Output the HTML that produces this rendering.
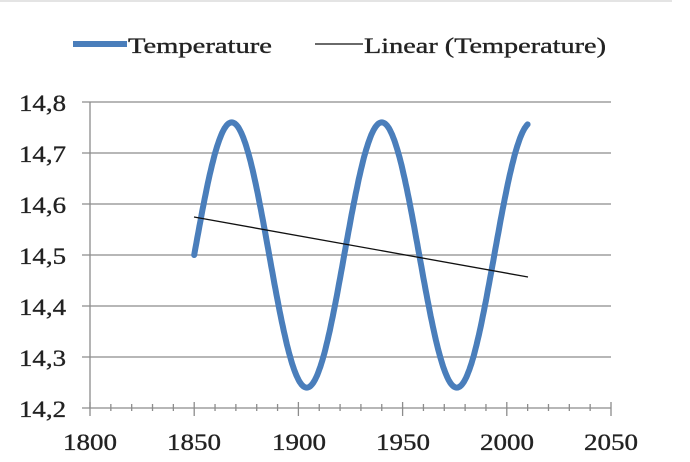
<!DOCTYPE html>
<html><head><meta charset="utf-8"><style>
html,body{margin:0;padding:0;background:#fff;}
svg{display:block;font-family:"Liberation Serif",serif;}
text{stroke:#222;stroke-width:0.35;}
</style></head><body>
<svg id="s" width="690" height="462" viewBox="0 0 690 462">
<rect x="0" y="0" width="690" height="462" fill="#fff"/>
<line x1="0" y1="1" x2="672" y2="1" stroke="#e4e4e4" stroke-width="2"/>
<g stroke="#8c8c8c" stroke-width="1.3">
<line x1="82" y1="102" x2="611" y2="102"/>
<line x1="82" y1="153" x2="611" y2="153"/>
<line x1="82" y1="204" x2="611" y2="204"/>
<line x1="82" y1="255" x2="611" y2="255"/>
<line x1="82" y1="306" x2="611" y2="306"/>
<line x1="82" y1="357" x2="611" y2="357"/>
<line x1="82" y1="408" x2="611" y2="408"/>
<line x1="90" y1="102" x2="90" y2="408"/>
</g>
<g id="ticks" stroke="#8c8c8c" stroke-width="1.3"></g>
<g font-size="23" fill="#222" text-anchor="end">
<text x="66" y="111" textLength="47" lengthAdjust="spacingAndGlyphs">14,8</text>
<text x="66" y="162" textLength="47" lengthAdjust="spacingAndGlyphs">14,7</text>
<text x="66" y="213" textLength="47" lengthAdjust="spacingAndGlyphs">14,6</text>
<text x="66" y="264" textLength="47" lengthAdjust="spacingAndGlyphs">14,5</text>
<text x="66" y="315" textLength="47" lengthAdjust="spacingAndGlyphs">14,4</text>
<text x="66" y="366" textLength="47" lengthAdjust="spacingAndGlyphs">14,3</text>
<text x="66" y="417" textLength="47" lengthAdjust="spacingAndGlyphs">14,2</text>
</g>
<g font-size="23" fill="#222" text-anchor="middle">
<text x="90" y="450" textLength="54" lengthAdjust="spacingAndGlyphs">1800</text>
<text x="194" y="450" textLength="54" lengthAdjust="spacingAndGlyphs">1850</text>
<text x="299" y="450" textLength="54" lengthAdjust="spacingAndGlyphs">1900</text>
<text x="403" y="450" textLength="54" lengthAdjust="spacingAndGlyphs">1950</text>
<text x="507" y="450" textLength="54" lengthAdjust="spacingAndGlyphs">2000</text>
<text x="611" y="450" textLength="54" lengthAdjust="spacingAndGlyphs">2050</text>
</g>
<path id="p" fill="none" stroke="#4a7ebb" stroke-width="6" stroke-linecap="round" stroke-linejoin="round"/>
<line x1="194" y1="217" x2="528" y2="277" stroke="#111" stroke-width="1.3"/>
<line x1="73" y1="44" x2="127" y2="44" stroke="#4a7ebb" stroke-width="6"/>
<text x="128" y="53" font-size="22" fill="#222" textLength="144" lengthAdjust="spacingAndGlyphs">Temperature</text>
<line x1="315" y1="44" x2="363" y2="44" stroke="#111" stroke-width="1.3"/>
<text x="364" y="53" font-size="22" fill="#222" textLength="242" lengthAdjust="spacingAndGlyphs">Linear (Temperature)</text>
</svg>
<script>
var d="";
for(var y=1850;y<=2010;y+=0.5){
 var v=14.5+0.26*Math.sin(2*Math.PI*(y-1850)/72);
 var X=90+(y-1800)*2.084, Y=408-(v-14.2)*510;
 d+=(d?"L":"M")+X.toFixed(1)+" "+Y.toFixed(1);
}
document.getElementById("p").setAttribute("d",d);
var t="";
for(var x=1800;x<=2050;x+=10){
 var X=90+(x-1800)*2.084, big=(x%50==0);
 t+='<line x1="'+X+'" y1="'+(big?402:404)+'" x2="'+X+'" y2="'+(big?416:411)+'"/>';
}
document.getElementById("ticks").innerHTML=t;
</script>
</body></html>
